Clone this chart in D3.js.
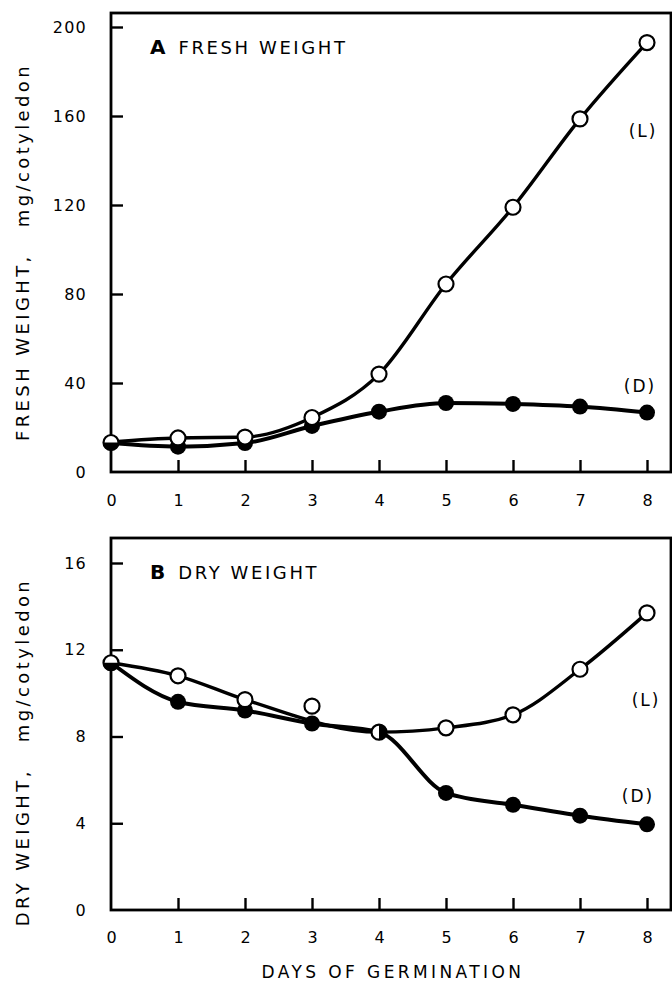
<!DOCTYPE html>
<html>
<head>
<meta charset="utf-8">
<script src="https://cdn.jsdelivr.net/npm/d3@7"></script>
<style>
  body { margin: 0; background: #fff; overflow: hidden; }
  text { font-family: "DejaVu Sans", sans-serif; fill: #000; }
</style>
</head>
<body>
<script>
// days of germination
const days = [0, 1, 2, 3, 4, 5, 6, 7, 8];

// A: fresh weight, mg/cotyledon
const freshLight = [13.5, 15.3, 15.7, 24.5, 44, 84.5, 119, 158.7, 193];
const freshDark = [13, 11.4, 13, 20.7, 27.1, 31, 30.6, 29.4, 26.7];

// B: dry weight, mg/cotyledon
const dryLight = [11.4, 10.8, 9.7, 9.4, 8.2, 8.4, 9.0, 11.1, 13.7];
const dryDark = [11.4, 9.6, 9.2, 8.6, 8.2, 5.4, 4.85, 4.35, 3.95];

const freshTicks = [0, 40, 80, 120, 160, 200];
const dryTicks = [0, 4, 8, 12, 16];

// points where the light and dark series meet (drawn half filled)
const freshShared = [{day: 0, split: "h"}];
const dryShared = [{day: 0, split: "h"}, {day: 4, split: "v"}];

// day 3 of the light dry-weight series sits off its curve
const dryLightSkip = [3];

const width = 672, height = 984;

const svg = d3.select("body").append("svg")
    .attr("width", width)
    .attr("height", height);

const x = d3.scaleLinear().domain([0, 8]).range([111, 647]);

function makePanel(opts) {
    const y = d3.scaleLinear().domain(opts.yDomain).range(opts.yRange);
    const g = svg.append("g").attr("class", "panel");

    // frame
    g.append("rect")
        .attr("x", x(0))
        .attr("y", opts.frameTop)
        .attr("width", 671 - x(0))
        .attr("height", y(0) - opts.frameTop)
        .attr("fill", "none")
        .attr("stroke", "#000")
        .attr("stroke-width", 2.8);

    const yAxis = d3.axisLeft(y).tickValues(opts.yTicks).tickSize(-12).tickPadding(24);
    g.append("g")
        .attr("class", "yaxis")
        .attr("transform", "translate(" + x(0) + ",0)")
        .style("font-size", "16px")
        .style("letter-spacing", "1.2px")
        .style("font-family", '"DejaVu Sans", sans-serif')
        .call(yAxis)
        .call((s) => s.select(".domain").remove())
        .call((s) => s.selectAll("line").attr("stroke-width", 2.4).filter((d) => d === 0).remove());

    const xAxis = d3.axisBottom(x).tickValues(days).tickSize(-12).tickPadding(opts.xPad).tickFormat((d) => d);
    g.append("g")
        .attr("class", "xaxis")
        .attr("transform", "translate(0," + y(0) + ")")
        .style("font-size", "16px")
        .style("font-family", '"DejaVu Sans", sans-serif')
        .call(xAxis)
        .call((s) => s.select(".domain").remove())
        .call((s) => s.selectAll("line").attr("stroke-width", 2.4).filter((d) => d === 0).remove());

    // y label
    const ly = g.append("text")
        .attr("transform", "translate(29," + opts.labelY + ") rotate(-90)")
        .attr("text-anchor", "middle")
        .style("font-size", "18px")
        .style("letter-spacing", "3.4px");
    ly.append("tspan").text(opts.yLabel);
    ly.append("tspan").attr("dx", 26).text("mg/cotyledon");

    // panel title
    const t = g.append("text")
        .attr("x", 150)
        .attr("y", opts.frameTop + 41);
    t.append("tspan").style("font-size", "20px").style("font-weight", "bold").text(opts.letter);
    t.append("tspan").attr("dx", 13).style("font-size", "18px").style("letter-spacing", "2.6px").text(opts.title);

    // curves
    const line = d3.line()
        .x((d) => x(d.day))
        .y((d) => y(d.v))
        .curve(d3.curveMonotoneX);

    const lightPts = days.map((d, i) => ({day: d, v: opts.light[i]}));
    const darkPts = days.map((d, i) => ({day: d, v: opts.dark[i]}));
    const skip = opts.lightSkip || [];

    g.append("path")
        .datum(darkPts)
        .attr("d", line)
        .attr("fill", "none")
        .attr("stroke", "#000")
        .attr("stroke-width", 4);
    g.append("path")
        .datum(lightPts.filter((p) => !skip.includes(p.day)))
        .attr("d", line)
        .attr("fill", "none")
        .attr("stroke", "#000")
        .attr("stroke-width", 3.4);

    const r = 8;
    const sharedDays = opts.shared.map((s) => s.day);

    g.selectAll("circle.dark")
        .data(darkPts.filter((p) => !sharedDays.includes(p.day)))
        .join("circle")
        .attr("class", "dark")
        .attr("cx", (d) => x(d.day))
        .attr("cy", (d) => y(d.v))
        .attr("r", r)
        .attr("fill", "#000");

    g.selectAll("circle.light")
        .data(lightPts.filter((p) => !sharedDays.includes(p.day)))
        .join("circle")
        .attr("class", "light")
        .attr("cx", (d) => x(d.day))
        .attr("cy", (d) => y(d.v))
        .attr("r", r - 0.5)
        .attr("fill", "#fff")
        .attr("stroke", "#000")
        .attr("stroke-width", 2.2);

    // half filled markers
    opts.shared.forEach((s) => {
        const i = days.indexOf(s.day);
        const cx = x(s.day), cy = y((opts.light[i] + opts.dark[i]) / 2);
        const m = g.append("g").attr("transform", "translate(" + cx + "," + cy + ")");
        m.append("circle").attr("r", r - 0.5).attr("fill", "#fff").attr("stroke", "#000").attr("stroke-width", 2.2);
        const half = s.split === "h"
            ? "M" + (-r) + ",0 A" + r + "," + r + " 0 0 0 " + r + ",0 Z"
            : "M0," + (-r) + " A" + r + "," + r + " 0 0 1 0," + r + " Z";
        m.append("path").attr("d", half).attr("fill", "#000");
    });

    // series labels
    g.append("text").attr("x", opts.lPos[0]).attr("y", opts.lPos[1])
        .attr("text-anchor", "middle").style("font-size", "17px").style("letter-spacing", "2px").text("(L)");
    g.append("text").attr("x", opts.dPos[0]).attr("y", opts.dPos[1])
        .attr("text-anchor", "middle").style("font-size", "17px").style("letter-spacing", "2px").text("(D)");
}

makePanel({
    letter: "A", title: "FRESH WEIGHT",
    yDomain: [0, 200], yRange: [472, 27], frameTop: 13,
    yTicks: freshTicks, xPad: 23,
    yLabel: "FRESH WEIGHT,", labelY: 252,
    light: freshLight, dark: freshDark, shared: freshShared,
    lPos: [643, 137], dPos: [640, 392]
});

makePanel({
    letter: "B", title: "DRY WEIGHT",
    yDomain: [0, 16], yRange: [910, 563], frameTop: 538,
    yTicks: dryTicks, xPad: 22,
    yLabel: "DRY WEIGHT,", labelY: 752,
    light: dryLight, dark: dryDark, shared: dryShared, lightSkip: dryLightSkip,
    lPos: [646, 706], dPos: [638, 802]
});

svg.append("text")
    .attr("x", 393)
    .attr("y", 978)
    .attr("text-anchor", "middle")
    .style("font-size", "17px")
    .style("letter-spacing", "3.4px")
    .text("DAYS OF GERMINATION");
</script>
</body>
</html>
